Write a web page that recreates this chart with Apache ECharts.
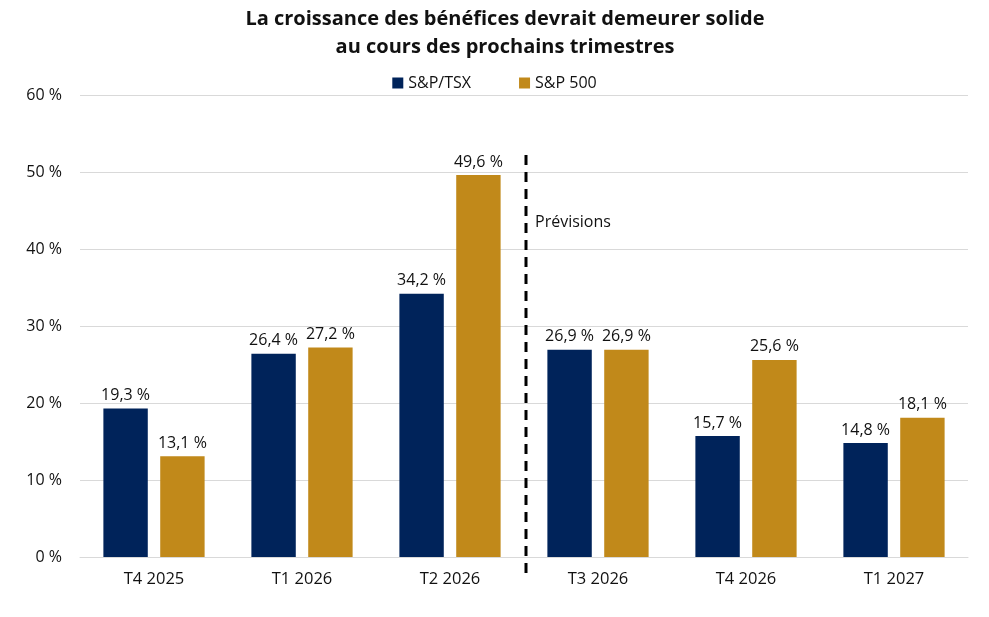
<!DOCTYPE html>
<html><head><meta charset="utf-8">
<script src="https://cdn.jsdelivr.net/npm/echarts@6/dist/echarts.min.js"></script>
<style>html,body{margin:0;padding:0;background:#fff}#c{width:989px;height:617px}</style>
</head><body><div id="c"></div>
<script>
const categories = ['T4 2025','T1 2026','T2 2026','T3 2026','T4 2026','T1 2027'];
const tsx = [19.3, 26.4, 34.2, 26.9, 15.7, 14.8];
const sp500 = [13.1, 27.2, 49.6, 26.9, 25.6, 18.1];
const seriesNames = ['S&P/TSX', 'S&P 500'];
const forecastLabel = 'Prévisions';
const forecastStartIndex = 3;

const font = '"Open Sans", "Liberation Sans", sans-serif';
const fmt = v => v.toFixed(1).replace('.', ',') + ' %';
const chart = echarts.init(document.getElementById('c'));
const labelCfg = {show:true, position:'top', distance:5, formatter:p=>fmt(p.value), color:'#111', fontSize:16, fontFamily:font};
chart.setOption({
  animation:false,
  title:{text:'La croissance des bénéfices devrait demeurer solide\nau cours des prochains trimestres', left:500, textAlign:'center', top:0,
    textStyle:{fontSize:20, fontWeight:'bold', color:'#111', lineHeight:28, fontFamily:font}},
  legend:{data:seriesNames, top:70, left:'center', itemWidth:11, itemHeight:11, itemGap:48, icon:'rect',
    textStyle:{fontSize:16, color:'#111', fontFamily:font}},
  grid:{left:80, right:21, top:95, bottom:60},
  xAxis:{type:'category', data:categories, axisTick:{show:false}, axisLine:{lineStyle:{color:'#d9d9d9'}},
    axisLabel:{color:'#111', fontSize:16.5, margin:14, fontFamily:font}},
  yAxis:{type:'value', min:0, max:60, interval:10, axisLabel:{formatter:v=>v+' %', color:'#111', fontSize:16, margin:18, fontFamily:font},
    splitLine:{lineStyle:{color:'#d9d9d9'}}},
  series:[
    {name:seriesNames[0], type:'bar', data:tsx, barWidth:'30%', barGap:'28%', itemStyle:{color:'#00235A'}, label:labelCfg},
    {name:seriesNames[1], type:'bar', data:sp500, barWidth:'30%', barGap:'28%', itemStyle:{color:'#C1891A'}, label:labelCfg}
  ]
});
const xa = chart.convertToPixel({xAxisIndex:0}, categories[forecastStartIndex-1]);
const xb = chart.convertToPixel({xAxisIndex:0}, categories[forecastStartIndex]);
const xm = (xa+xb)/2 + 2;
const yTop = chart.convertToPixel({yAxisIndex:0}, 52.2);
const yBot = chart.convertToPixel({yAxisIndex:0}, 0) + 23;
const yTxt = chart.convertToPixel({yAxisIndex:0}, 43.4);
chart.setOption({graphic:[
  {type:'line', shape:{x1:xm, y1:yTop, x2:xm, y2:yBot}, style:{stroke:'#000', lineWidth:3, lineDash:[10,7]}},
  {type:'text', x:xm+9, y:yTxt, style:{text:forecastLabel, fill:'#111', fontSize:16, fontFamily:font, verticalAlign:'middle'}}
]});
</script></body></html>
